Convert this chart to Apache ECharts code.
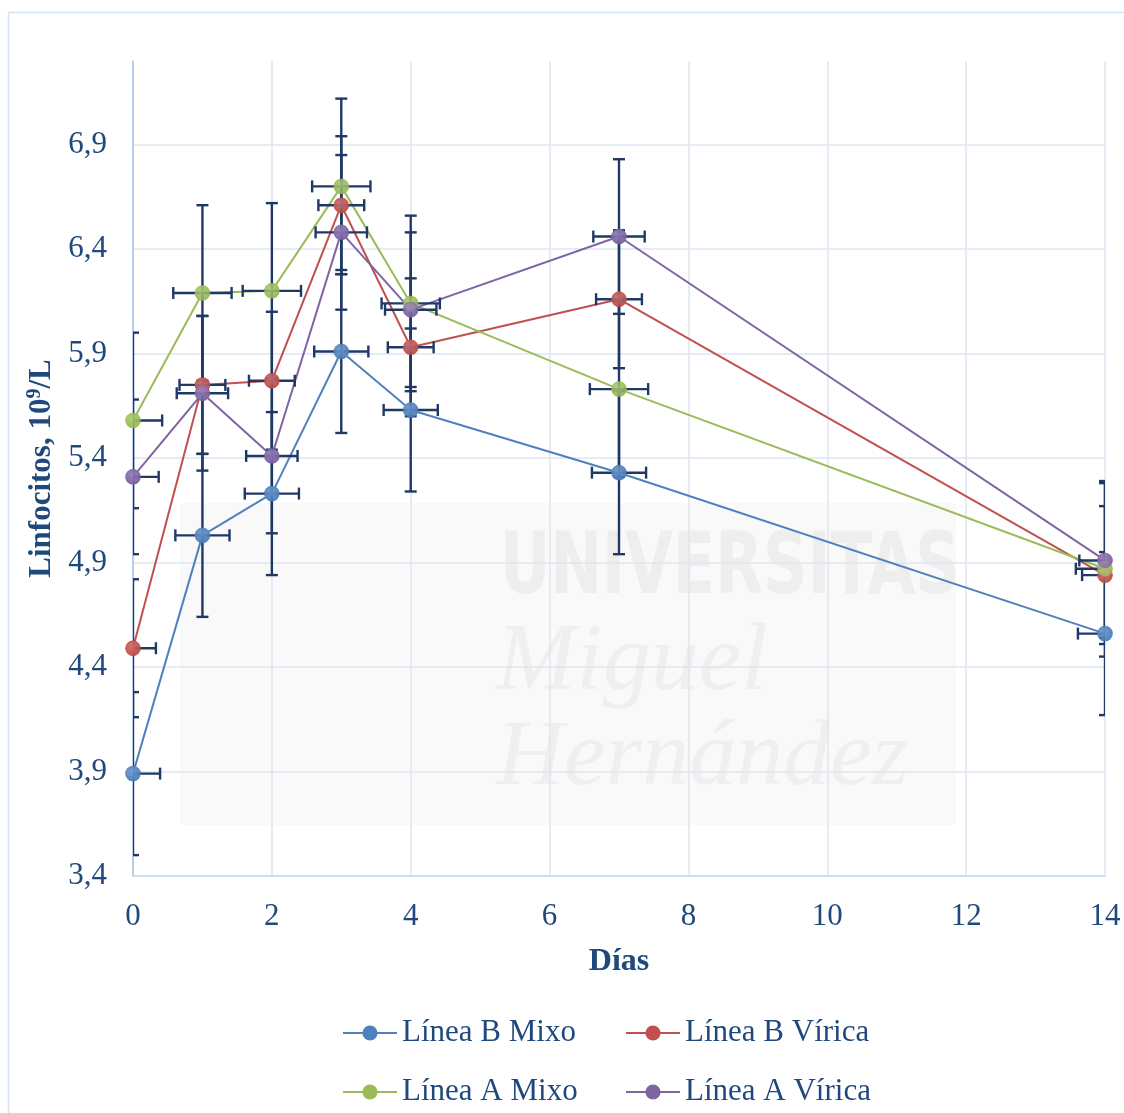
<!DOCTYPE html>
<html>
<head>
<meta charset="utf-8">
<script src="https://cdn.jsdelivr.net/npm/echarts@6/dist/echarts.min.js"></script>
<style>
html,body{margin:0;padding:0;background:#fff;}
#chart{width:1124px;height:1113px;}
</style>
</head>
<body>
<div id="chart"></div>
<script>
// ---- data ----
const days = [0, 1, 2, 3, 4, 7, 14];
const xTicks = [0, 2, 4, 6, 8, 10, 12, 14];
const yTicks = [3.4, 3.9, 4.4, 4.9, 5.4, 5.9, 6.4, 6.9];
const seriesNames = ['Línea B Mixo', 'Línea B Vírica', 'Línea A Mixo', 'Línea A Vírica'];
const lineBMixo   = [3.89, 5.03, 5.23, 5.91, 5.63, 5.33, 4.56];
const lineBVirica = [4.49, 5.75, 5.77, 6.61, 5.93, 6.16, 4.84];
const lineAMixo   = [5.58, 6.19, 6.20, 6.70, 6.14, 5.73, 4.87];
const lineAVirica = [5.31, 5.71, 5.41, 6.48, 6.11, 6.46, 4.91];
const errBMixo    = [0.39, 0.39, 0.39, 0.39, 0.39, 0.39, 0.39];
const errBVirica  = [0.33, 0.33, 0.33, 0.33, 0.33, 0.33, 0.33];
const errAMixo    = [0.42, 0.42, 0.42, 0.42, 0.42, 0.42, 0.42];
const errAVirica  = [0.37, 0.37, 0.37, 0.37, 0.37, 0.37, 0.37];

const values = [lineBMixo, lineBVirica, lineAMixo, lineAVirica];
const errors = [errBMixo, errBVirica, errAMixo, errAVirica];
const colors = ['#4F81BD', '#C0504D', '#9BBB59', '#8064A2'];
const lightColors = ['#7aa3d6', '#d97a77', '#b8d27e', '#a08ac2'];

const FONT = "'Liberation Serif', 'Times New Roman', serif";
const TEXT = '#1F497D';
const ERRC = '#1F3864';

function markerColor(i) {
  return new echarts.graphic.RadialGradient(0.4, 0.35, 0.7, [
    {offset: 0, color: lightColors[i]},
    {offset: 1, color: colors[i]}
  ]);
}

const series = [];
// lines
values.forEach((v, i) => {
  series.push({
    name: seriesNames[i],
    type: 'line',
    z: 2,
    data: days.map((d, k) => [d, v[k]]),
    symbol: 'circle',
    symbolSize: 15,
    itemStyle: {color: colors[i]},
    lineStyle: {color: colors[i], width: 2},
    emphasis: {disabled: true},
    animation: false
  });
});
// error bars
values.forEach((v, i) => {
  series.push({
    type: 'custom',
    z: 3,
    silent: true,
    clip: true,
    animation: false,
    data: days.map((d, k) => [d, v[k], errors[i][k]]),
    encode: {x: 0, y: 1},
    renderItem: function (params, api) {
      const x = api.value(0), y = api.value(1), e = api.value(2);
      const top = api.coord([x, y + e]);
      const bot = api.coord([x, y - e]);
      const l = api.coord([x - e, y]);
      const r = api.coord([x + e, y]);
      const cap = 6;
      const st = {stroke: ERRC, lineWidth: 2.4};
      const ln = (x1, y1, x2, y2) => ({type: 'line', shape: {x1, y1, x2, y2}, style: st});
      return {
        type: 'group',
        children: [
          ln(top[0], top[1], bot[0], bot[1]),
          ln(top[0] - cap, top[1], top[0] + cap, top[1]),
          ln(bot[0] - cap, bot[1], bot[0] + cap, bot[1]),
          ln(l[0], l[1], r[0], r[1]),
          ln(l[0], l[1] - cap, l[0], l[1] + cap),
          ln(r[0], r[1] - cap, r[0], r[1] + cap)
        ]
      };
    }
  });
});
// markers on top
values.forEach((v, i) => {
  series.push({
    type: 'scatter',
    z: 4,
    silent: true,
    animation: false,
    data: days.map((d, k) => [d, v[k]]),
    symbol: 'circle',
    symbolSize: 15,
    itemStyle: {color: markerColor(i), borderColor: colors[i], borderWidth: 0.5}
  });
});

const legendPos = [
  {left: 342, top: 1017},
  {left: 625, top: 1017},
  {left: 342, top: 1076},
  {left: 625, top: 1076}
];
const legends = seriesNames.map((n, i) => ({
  data: [n],
  left: legendPos[i].left,
  top: legendPos[i].top,
  padding: 0,
  itemWidth: 54,
  itemHeight: 19,
  selectedMode: false,
  textStyle: {fontFamily: FONT, fontSize: 31, color: TEXT, lineHeight: 32}
}));

const option = {
  backgroundColor: '#ffffff',
  animation: false,
  textStyle: {fontFamily: FONT},
  graphic: [
    {type: 'rect', z: -5, shape: {x: 8.5, y: 12.5, width: 1200, height: 1200},
     style: {fill: 'none', stroke: '#D6E3F3', lineWidth: 1.5}, silent: true},
    {type: 'rect', z: -4, shape: {x: 180, y: 503, width: 776, height: 322},
     style: {fill: '#f9f9f9'}, silent: true},
    {type: 'text', z: -3, x: 500, y: 528, scaleX: 0.8, silent: true,
     style: {text: 'UNIVERSITAS', fontFamily: "'DejaVu Sans Condensed', 'DejaVu Sans', sans-serif",
             fontWeight: 'bold', fontSize: 86, fill: '#eeeeee'}},
    {type: 'text', z: -3, x: 496, y: 616, silent: true,
     style: {text: 'Miguel', fontFamily: FONT, fontStyle: 'italic', fontSize: 96, fill: '#efefef'}},
    {type: 'text', z: -3, x: 496, y: 712, silent: true,
     style: {text: 'Hernández', fontFamily: FONT, fontStyle: 'italic', fontSize: 94, fill: '#efefef'}}
  ],
  grid: {left: 133, right: 19, top: 61, bottom: 237, containLabel: false},
  legend: legends,
  xAxis: {
    type: 'value',
    min: 0, max: 14, interval: 2,
    name: 'Días',
    nameLocation: 'middle',
    nameGap: 70,
    nameTextStyle: {fontFamily: FONT, fontWeight: 'bold', fontSize: 32, color: TEXT},
    axisLine: {show: true, onZero: false, lineStyle: {color: '#C6D9F1', width: 1.5}},
    axisTick: {show: false},
    axisLabel: {margin: 25, fontFamily: FONT, fontSize: 31, color: TEXT,
                formatter: v => xTicks.includes(v) ? String(v) : ''},
    splitLine: {show: true, lineStyle: {color: '#DCE6F2', width: 1.5}}
  },
  yAxis: {
    type: 'value',
    min: 3.4, max: 7.3, interval: 0.5,
    name: 'Linfocitos, 10{sup|9}/L',
    nameLocation: 'middle',
    nameGap: 70,
    nameTextStyle: {
      fontFamily: FONT, fontWeight: 'bold', fontSize: 31, color: TEXT,
      rich: {sup: {fontFamily: FONT, fontWeight: 'bold', fontSize: 20, color: TEXT, padding: [0, 0, 14, 0]}}
    },
    axisLine: {show: true, onZero: false, lineStyle: {color: '#A9C4E6', width: 1.5}},
    axisTick: {show: false},
    axisLabel: {
      margin: 26, fontFamily: FONT, fontSize: 31, color: TEXT, showMaxLabel: false,
      formatter: v => {
        const t = yTicks.find(a => Math.abs(a - v) < 1e-6);
        return t === undefined ? '' : t.toFixed(1).replace('.', ',');
      }
    },
    splitLine: {show: true, showMaxLine: false, lineStyle: {color: '#DCE6F2', width: 1.5}}
  },
  series: series
};

const chart = echarts.init(document.getElementById('chart'), null, {renderer: 'canvas'});
chart.setOption(option);
</script>
</body>
</html>
